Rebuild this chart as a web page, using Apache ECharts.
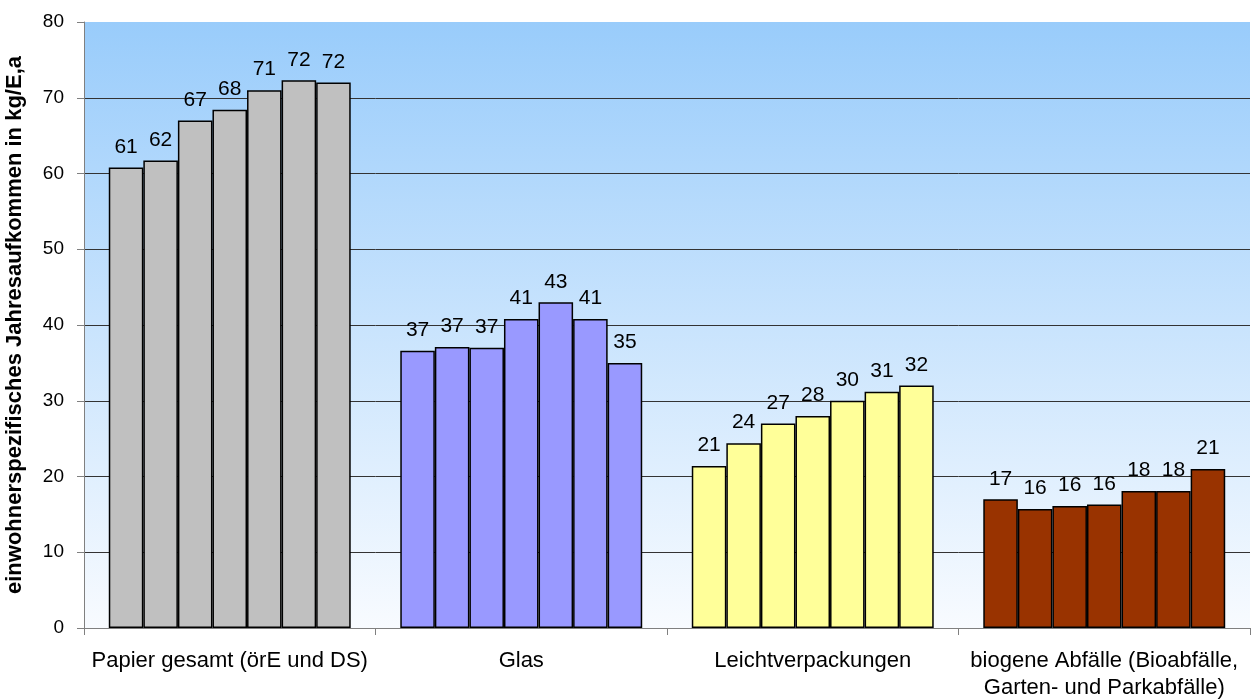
<!DOCTYPE html>
<html>
<head>
<meta charset="utf-8">
<script src="https://cdn.jsdelivr.net/npm/echarts@6/dist/echarts.min.js"></script>
<style>
  html, body { margin: 0; padding: 0; background: #fff; }
  #chart { width: 1253px; height: 700px; }
</style>
</head>
<body>
<div id="chart"></div>
<script>
// categories (waste fractions)
const categories = [
  'Papier gesamt (örE und DS)',
  'Glas',
  'Leichtverpackungen',
  'biogene Abfälle (Bioabfälle,\nGarten- und Parkabfälle)'
]
const categoryColors = ['#c0c0c0', '#9999ff', '#ffff99', '#993300']

// one array per category, 7 consecutive years each
const papier = [60.8, 61.7, 67.0, 68.4, 71.0, 72.3, 72.0]
const glas = [36.6, 37.1, 37.0, 40.8, 43.0, 40.8, 35.0]
const lvp = [21.4, 24.4, 27.0, 28.0, 30.0, 31.2, 32.0]
const bio = [17.0, 15.7, 16.1, 16.3, 18.1, 18.1, 21.0]

const yTicks = { min: 0, max: 80, interval: 10 }

let byCategory = [papier, glas, lvp, bio]
let series = []
for (let s = 0; s < 7; s++) {
  series.push({
    name: 'Jahr ' + (s + 1),
    type: 'bar',
    barGap: 0,
    barCategoryGap: '17%',
    data: byCategory.map(arr => arr[s]),
    itemStyle: {
      color: params => categoryColors[params.dataIndex],
      borderColor: '#000',
      borderWidth: 1.5
    },
    label: {
      show: true,
      position: 'top',
      distance: 10,
      color: '#000',
      fontSize: 21,
      formatter: p => Math.round(p.value)
    }
  })
}

let myChart = echarts.init(document.getElementById('chart'))
let option = {
  animation: false,
  textStyle: { fontFamily: 'Liberation Sans, Arial, sans-serif' },
  grid: {
    left: 84,
    right: 3,
    top: 22,
    bottom: 72,
    containLabel: false,
    outerBoundsMode: 'none',
    show: true,
    borderWidth: 0,
    backgroundColor: new echarts.graphic.LinearGradient(0, 0, 0, 1, [
      { offset: 0, color: '#99ccfb' },
      { offset: 1, color: '#f8fbff' }
    ])
  },
  xAxis: {
    type: 'category',
    data: categories,
    axisLine: { lineStyle: { color: '#808080', width: 1 } },
    axisTick: { show: true, length: 7, lineStyle: { color: '#808080' } },
    axisLabel: {
      color: '#000',
      fontSize: 22,
      margin: 19,
      lineHeight: 27,
      interval: 0
    }
  },
  yAxis: {
    type: 'value',
    min: yTicks.min,
    max: yTicks.max,
    interval: yTicks.interval,
    name: 'einwohnerspezifisches Jahresaufkommen in kg/E,a',
    nameLocation: 'middle',
    nameRotate: 90,
    nameGap: 58,
    nameTextStyle: { color: '#000', fontSize: 22, fontWeight: 'bold' },
    axisLine: { show: true, lineStyle: { color: '#808080', width: 1 } },
    axisTick: { show: true, length: 7, lineStyle: { color: '#808080' } },
    axisLabel: { color: '#000', fontSize: 19, margin: 20 },
    splitLine: { show: true, showMaxLine: false, lineStyle: { color: '#333', width: 1 } }
  },
  series: series
}
myChart.setOption(option)
</script>
</body>
</html>
